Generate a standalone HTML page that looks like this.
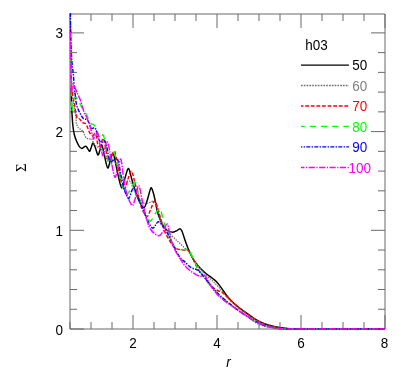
<!DOCTYPE html>
<html><head><meta charset="utf-8"><title>plot</title>
<style>
html,body{margin:0;padding:0;background:#fff;}
body{width:399px;height:385px;position:relative;overflow:hidden;font-family:"Liberation Sans",sans-serif;}
</style></head><body>
<svg width="399" height="385" viewBox="0 0 399 385" style="position:absolute;left:0;top:0;will-change:transform">
<defs><clipPath id="c"><rect x="69" y="13" width="317" height="317"/></clipPath></defs>
<path d="M70.00,329 v-7" stroke="#696969" stroke-width="1" fill="none"/>
<path d="M70.00,14 v7" stroke="#696969" stroke-width="1" fill="none"/>
<path d="M91.00,329 v-7" stroke="#696969" stroke-width="1" fill="none"/>
<path d="M91.00,14 v7" stroke="#696969" stroke-width="1" fill="none"/>
<path d="M112.00,329 v-7" stroke="#696969" stroke-width="1" fill="none"/>
<path d="M112.00,14 v7" stroke="#696969" stroke-width="1" fill="none"/>
<path d="M133.00,329 v-14" stroke="#696969" stroke-width="1" fill="none"/>
<path d="M133.00,14 v14" stroke="#696969" stroke-width="1" fill="none"/>
<path d="M154.00,329 v-7" stroke="#696969" stroke-width="1" fill="none"/>
<path d="M154.00,14 v7" stroke="#696969" stroke-width="1" fill="none"/>
<path d="M175.00,329 v-7" stroke="#696969" stroke-width="1" fill="none"/>
<path d="M175.00,14 v7" stroke="#696969" stroke-width="1" fill="none"/>
<path d="M196.00,329 v-7" stroke="#696969" stroke-width="1" fill="none"/>
<path d="M196.00,14 v7" stroke="#696969" stroke-width="1" fill="none"/>
<path d="M217.00,329 v-14" stroke="#696969" stroke-width="1" fill="none"/>
<path d="M217.00,14 v14" stroke="#696969" stroke-width="1" fill="none"/>
<path d="M238.00,329 v-7" stroke="#696969" stroke-width="1" fill="none"/>
<path d="M238.00,14 v7" stroke="#696969" stroke-width="1" fill="none"/>
<path d="M259.00,329 v-7" stroke="#696969" stroke-width="1" fill="none"/>
<path d="M259.00,14 v7" stroke="#696969" stroke-width="1" fill="none"/>
<path d="M280.00,329 v-7" stroke="#696969" stroke-width="1" fill="none"/>
<path d="M280.00,14 v7" stroke="#696969" stroke-width="1" fill="none"/>
<path d="M301.00,329 v-14" stroke="#696969" stroke-width="1" fill="none"/>
<path d="M301.00,14 v14" stroke="#696969" stroke-width="1" fill="none"/>
<path d="M322.00,329 v-7" stroke="#696969" stroke-width="1" fill="none"/>
<path d="M322.00,14 v7" stroke="#696969" stroke-width="1" fill="none"/>
<path d="M343.00,329 v-7" stroke="#696969" stroke-width="1" fill="none"/>
<path d="M343.00,14 v7" stroke="#696969" stroke-width="1" fill="none"/>
<path d="M364.00,329 v-7" stroke="#696969" stroke-width="1" fill="none"/>
<path d="M364.00,14 v7" stroke="#696969" stroke-width="1" fill="none"/>
<path d="M385.00,329 v-14" stroke="#696969" stroke-width="1" fill="none"/>
<path d="M385.00,14 v14" stroke="#696969" stroke-width="1" fill="none"/>
<path d="M70,329.00 h14" stroke="#696969" stroke-width="1" fill="none"/>
<path d="M385,329.00 h-14" stroke="#696969" stroke-width="1" fill="none"/>
<path d="M70,309.26 h7" stroke="#696969" stroke-width="1" fill="none"/>
<path d="M385,309.26 h-7" stroke="#696969" stroke-width="1" fill="none"/>
<path d="M70,289.52 h7" stroke="#696969" stroke-width="1" fill="none"/>
<path d="M385,289.52 h-7" stroke="#696969" stroke-width="1" fill="none"/>
<path d="M70,269.78 h7" stroke="#696969" stroke-width="1" fill="none"/>
<path d="M385,269.78 h-7" stroke="#696969" stroke-width="1" fill="none"/>
<path d="M70,250.04 h7" stroke="#696969" stroke-width="1" fill="none"/>
<path d="M385,250.04 h-7" stroke="#696969" stroke-width="1" fill="none"/>
<path d="M70,230.30 h14" stroke="#696969" stroke-width="1" fill="none"/>
<path d="M385,230.30 h-14" stroke="#696969" stroke-width="1" fill="none"/>
<path d="M70,210.56 h7" stroke="#696969" stroke-width="1" fill="none"/>
<path d="M385,210.56 h-7" stroke="#696969" stroke-width="1" fill="none"/>
<path d="M70,190.82 h7" stroke="#696969" stroke-width="1" fill="none"/>
<path d="M385,190.82 h-7" stroke="#696969" stroke-width="1" fill="none"/>
<path d="M70,171.08 h7" stroke="#696969" stroke-width="1" fill="none"/>
<path d="M385,171.08 h-7" stroke="#696969" stroke-width="1" fill="none"/>
<path d="M70,151.34 h7" stroke="#696969" stroke-width="1" fill="none"/>
<path d="M385,151.34 h-7" stroke="#696969" stroke-width="1" fill="none"/>
<path d="M70,131.60 h14" stroke="#696969" stroke-width="1" fill="none"/>
<path d="M385,131.60 h-14" stroke="#696969" stroke-width="1" fill="none"/>
<path d="M70,111.86 h7" stroke="#696969" stroke-width="1" fill="none"/>
<path d="M385,111.86 h-7" stroke="#696969" stroke-width="1" fill="none"/>
<path d="M70,92.12 h7" stroke="#696969" stroke-width="1" fill="none"/>
<path d="M385,92.12 h-7" stroke="#696969" stroke-width="1" fill="none"/>
<path d="M70,72.38 h7" stroke="#696969" stroke-width="1" fill="none"/>
<path d="M385,72.38 h-7" stroke="#696969" stroke-width="1" fill="none"/>
<path d="M70,52.64 h7" stroke="#696969" stroke-width="1" fill="none"/>
<path d="M385,52.64 h-7" stroke="#696969" stroke-width="1" fill="none"/>
<path d="M70,32.90 h14" stroke="#696969" stroke-width="1" fill="none"/>
<path d="M385,32.90 h-14" stroke="#696969" stroke-width="1" fill="none"/>
<path d="M70,14 H385" stroke="#696969" stroke-width="1" fill="none"/>
<path d="M70,329 H385" stroke="#696969" stroke-width="1" fill="none"/>
<path d="M70,14 V329" stroke="#696969" stroke-width="1" fill="none"/>
<path d="M385,14 V329" stroke="#696969" stroke-width="1" fill="none"/>
<g clip-path="url(#c)" fill="none" stroke-linejoin="round">
<path d="M71.20,88.00 C71.23,90.00 71.30,96.27 71.40,100.00 C71.50,103.73 71.55,106.07 71.80,110.40 C72.05,114.73 72.48,121.98 72.90,126.00 C73.32,130.02 73.73,132.07 74.30,134.50 C74.87,136.93 75.53,138.72 76.30,140.60 C77.07,142.48 78.03,144.50 78.90,145.80 C79.77,147.10 80.55,148.25 81.50,148.40 C82.45,148.55 83.82,147.03 84.60,146.70 C85.38,146.37 85.58,145.92 86.20,146.40 C86.82,146.88 87.70,148.80 88.30,149.60 C88.90,150.40 89.28,151.63 89.80,151.20 C90.32,150.77 90.88,148.37 91.40,147.00 C91.92,145.63 92.25,142.92 92.90,143.00 C93.55,143.08 94.47,145.50 95.30,147.50 C96.13,149.50 97.12,154.58 97.90,155.00 C98.68,155.42 99.33,151.67 100.00,150.00 C100.67,148.33 101.15,144.00 101.90,145.00 C102.65,146.00 103.53,152.17 104.50,156.00 C105.47,159.83 106.72,167.33 107.70,168.00 C108.68,168.67 109.52,162.47 110.40,160.00 C111.28,157.53 112.15,152.70 113.00,153.20 C113.85,153.70 114.58,159.03 115.50,163.00 C116.42,166.97 117.45,172.83 118.50,177.00 C119.55,181.17 120.72,187.83 121.80,188.00 C122.88,188.17 123.88,181.25 125.00,178.00 C126.12,174.75 127.33,168.17 128.50,168.50 C129.67,168.83 130.75,175.92 132.00,180.00 C133.25,184.08 134.67,189.17 136.00,193.00 C137.33,196.83 138.67,200.58 140.00,203.00 C141.33,205.42 142.83,207.83 144.00,207.50 C145.17,207.17 146.08,203.58 147.00,201.00 C147.92,198.42 148.78,194.20 149.50,192.00 C150.22,189.80 150.63,187.55 151.30,187.80 C151.97,188.05 152.80,191.13 153.50,193.50 C154.20,195.87 154.87,199.05 155.50,202.00 C156.13,204.95 156.47,208.12 157.30,211.20 C158.13,214.28 159.47,217.95 160.50,220.50 C161.53,223.05 162.33,224.83 163.50,226.50 C164.67,228.17 165.93,229.55 167.50,230.50 C169.07,231.45 171.32,232.18 172.90,232.20 C174.48,232.22 176.03,231.08 177.00,230.60 C177.97,230.12 178.17,229.60 178.70,229.30 C179.23,229.00 179.70,228.58 180.20,228.80 C180.70,229.02 181.23,229.73 181.70,230.60 C182.17,231.47 182.28,231.93 183.00,234.00 C183.72,236.07 184.83,239.83 186.00,243.00 C187.17,246.17 188.67,250.08 190.00,253.00 C191.33,255.92 192.33,258.00 194.00,260.50 C195.67,263.00 198.00,265.83 200.00,268.00 C202.00,270.17 203.95,271.78 206.00,273.50 C208.05,275.22 210.47,276.85 212.30,278.30 C214.13,279.75 215.32,280.35 217.00,282.20 C218.68,284.05 220.47,286.77 222.40,289.40 C224.33,292.03 226.50,295.53 228.60,298.00 C230.70,300.47 232.27,301.87 235.00,304.20 C237.73,306.53 241.67,309.53 245.00,312.00 C248.33,314.47 251.67,317.00 255.00,319.00 C258.33,321.00 261.67,322.72 265.00,324.00 C268.33,325.28 271.67,326.00 275.00,326.70 C278.33,327.40 281.67,327.83 285.00,328.20 C288.33,328.57 290.83,328.77 295.00,328.90 C299.17,329.03 295.00,328.98 310.00,329.00 C325.00,329.02 372.50,329.00 385.00,329.00" stroke="#000" stroke-width="1.45"/>
<path d="M70.30,50.00 C70.38,53.33 70.47,62.50 70.80,70.00 C71.13,77.50 71.47,87.18 72.30,95.00 C73.13,102.82 75.12,112.17 75.80,116.90 C76.48,121.63 75.97,121.57 76.40,123.40 C76.83,125.23 77.53,126.82 78.40,127.90 C79.27,128.98 80.73,129.13 81.60,129.90 C82.47,130.67 83.12,131.65 83.60,132.50 C84.08,133.35 83.98,134.03 84.50,135.00 C85.02,135.97 85.82,137.63 86.70,138.30 C87.58,138.97 88.97,138.93 89.80,139.00 C90.63,139.07 91.17,138.27 91.70,138.70 C92.23,139.13 92.28,140.38 93.00,141.60 C93.72,142.82 94.83,144.93 96.00,146.00 C97.17,147.07 98.67,147.00 100.00,148.00 C101.33,149.00 102.67,149.83 104.00,152.00 C105.33,154.17 106.50,159.67 108.00,161.00 C109.50,162.33 111.50,159.17 113.00,160.00 C114.50,160.83 115.67,163.33 117.00,166.00 C118.33,168.67 119.67,173.50 121.00,176.00 C122.33,178.50 123.50,180.08 125.00,181.00 C126.50,181.92 128.50,180.00 130.00,181.50 C131.50,183.00 132.50,187.08 134.00,190.00 C135.50,192.92 137.10,196.77 139.00,199.00 C140.90,201.23 143.57,202.85 145.40,203.40 C147.23,203.95 148.53,202.65 150.00,202.30 C151.47,201.95 152.95,200.18 154.20,201.30 C155.45,202.42 156.37,205.72 157.50,209.00 C158.63,212.28 159.48,217.47 161.00,221.00 C162.52,224.53 163.77,226.75 166.60,230.20 C169.43,233.65 174.18,237.97 178.00,241.70 C181.82,245.43 186.75,249.38 189.50,252.60 C192.25,255.82 192.25,257.77 194.50,261.00 C196.75,264.23 200.17,268.83 203.00,272.00 C205.83,275.17 208.92,277.50 211.50,280.00 C214.08,282.50 216.08,284.33 218.50,287.00 C220.92,289.67 223.08,292.83 226.00,296.00 C228.92,299.17 232.67,302.83 236.00,306.00 C239.33,309.17 243.00,312.42 246.00,315.00 C249.00,317.58 251.50,319.78 254.00,321.50 C256.50,323.22 258.67,324.38 261.00,325.30 C263.33,326.22 265.67,326.52 268.00,327.00 C270.33,327.48 272.17,327.87 275.00,328.20 C277.83,328.53 266.67,328.87 285.00,329.00 C303.33,329.13 368.33,329.00 385.00,329.00" stroke="#707070" stroke-width="1.3" stroke-dasharray="1.4 1.1"/>
<path d="M70.40,25.00 C70.48,30.83 70.67,49.50 70.90,60.00 C71.13,70.50 71.33,81.23 71.80,88.00 C72.27,94.77 73.21,97.63 73.70,100.60 C74.19,103.57 74.40,103.73 74.75,105.80 C75.10,107.87 75.37,110.93 75.80,113.00 C76.23,115.07 76.75,117.23 77.35,118.20 C77.95,119.17 78.71,118.27 79.40,118.80 C80.09,119.33 80.98,120.75 81.50,121.40 C82.02,122.05 81.77,122.30 82.50,122.70 C83.23,123.10 85.02,122.90 85.90,123.80 C86.78,124.70 87.08,126.47 87.80,128.10 C88.52,129.73 89.37,132.37 90.20,133.60 C91.03,134.83 91.96,135.50 92.80,135.50 C93.64,135.50 94.58,133.13 95.25,133.60 C95.92,134.07 96.41,136.62 96.80,138.30 C97.19,139.98 97.15,142.33 97.60,143.70 C98.05,145.07 98.85,146.78 99.50,146.50 C100.15,146.22 100.87,143.33 101.50,142.00 C102.13,140.67 102.63,137.67 103.30,138.50 C103.97,139.33 104.72,143.42 105.50,147.00 C106.28,150.58 107.08,158.33 108.00,160.00 C108.92,161.67 109.92,158.50 111.00,157.00 C112.08,155.50 113.57,150.50 114.50,151.00 C115.43,151.50 115.82,156.47 116.60,160.00 C117.38,163.53 118.38,168.37 119.20,172.20 C120.02,176.03 120.62,180.12 121.50,183.00 C122.38,185.88 123.42,190.17 124.50,189.50 C125.58,188.83 126.85,182.08 128.00,179.00 C129.15,175.92 130.32,170.67 131.40,171.00 C132.48,171.33 133.40,177.00 134.50,181.00 C135.60,185.00 136.75,190.33 138.00,195.00 C139.25,199.67 140.50,205.43 142.00,209.00 C143.50,212.57 145.53,216.40 147.00,216.40 C148.47,216.40 149.55,211.57 150.80,209.00 C152.05,206.43 153.38,201.33 154.50,201.00 C155.62,200.67 156.50,204.17 157.50,207.00 C158.50,209.83 159.33,214.00 160.50,218.00 C161.67,222.00 163.08,227.42 164.50,231.00 C165.92,234.58 167.58,237.05 169.00,239.50 C170.42,241.95 171.67,244.15 173.00,245.70 C174.33,247.25 175.33,248.08 177.00,248.80 C178.67,249.52 181.10,249.75 183.00,250.00 C184.90,250.25 187.07,249.55 188.40,250.30 C189.73,251.05 190.13,252.88 191.00,254.50 C191.87,256.12 192.52,257.68 193.60,260.00 C194.68,262.32 195.55,265.32 197.50,268.40 C199.45,271.48 202.97,275.52 205.30,278.50 C207.63,281.48 209.68,284.42 211.50,286.30 C213.32,288.18 214.38,288.73 216.20,289.80 C218.02,290.87 220.33,291.28 222.40,292.70 C224.47,294.12 226.50,296.35 228.60,298.30 C230.70,300.25 232.27,302.08 235.00,304.40 C237.73,306.72 241.67,309.73 245.00,312.20 C248.33,314.67 251.67,317.20 255.00,319.20 C258.33,321.20 261.67,322.92 265.00,324.20 C268.33,325.48 271.67,326.22 275.00,326.90 C278.33,327.58 281.67,327.95 285.00,328.30 C288.33,328.65 278.33,328.88 295.00,329.00 C311.67,329.12 370.00,329.00 385.00,329.00" stroke="#ff0000" stroke-width="1.45" stroke-dasharray="3.8 1.8"/>
<path d="M70.30,45.00 C70.37,48.33 70.53,56.83 70.70,65.00 C70.87,73.17 71.12,86.25 71.30,94.00 C71.48,101.75 71.47,110.33 71.80,111.50 C72.13,112.67 72.68,103.42 73.30,101.00 C73.92,98.58 74.65,97.07 75.50,97.00 C76.35,96.93 77.40,98.97 78.40,100.60 C79.40,102.23 80.47,104.90 81.50,106.80 C82.53,108.70 83.73,110.63 84.60,112.00 C85.47,113.37 86.00,113.75 86.70,115.00 C87.40,116.25 88.02,118.03 88.80,119.50 C89.58,120.97 90.45,122.82 91.40,123.80 C92.35,124.78 93.65,124.37 94.50,125.40 C95.35,126.43 95.78,128.23 96.50,130.00 C97.22,131.77 98.00,134.58 98.80,136.00 C99.60,137.42 100.60,138.71 101.30,138.50 C102.00,138.29 102.42,134.45 103.00,134.75 C103.58,135.05 104.08,136.93 104.80,140.30 C105.52,143.68 106.37,150.88 107.30,155.00 C108.23,159.12 109.57,164.50 110.40,165.00 C111.23,165.50 111.70,160.08 112.30,158.00 C112.90,155.92 113.30,152.17 114.00,152.50 C114.70,152.83 115.58,156.75 116.50,160.00 C117.42,163.25 118.58,168.17 119.50,172.00 C120.42,175.83 121.22,179.90 122.00,183.00 C122.78,186.10 123.48,188.65 124.20,190.60 C124.92,192.55 125.25,194.88 126.30,194.70 C127.35,194.52 129.03,191.57 130.50,189.50 C131.97,187.43 133.98,182.63 135.10,182.30 C136.22,181.97 136.58,185.25 137.20,187.50 C137.82,189.75 137.75,192.00 138.80,195.80 C139.85,199.60 142.30,206.85 143.50,210.30 C144.70,213.75 144.83,214.72 146.00,216.50 C147.17,218.28 149.00,221.42 150.50,221.00 C152.00,220.58 153.45,216.08 155.00,214.00 C156.55,211.92 158.67,208.50 159.80,208.50 C160.93,208.50 161.02,211.42 161.80,214.00 C162.58,216.58 163.13,220.00 164.50,224.00 C165.87,228.00 168.08,233.90 170.00,238.00 C171.92,242.10 174.00,246.67 176.00,248.60 C178.00,250.53 179.93,249.45 182.00,249.60 C184.07,249.75 186.90,248.77 188.40,249.50 C189.90,250.23 189.95,251.92 191.00,254.00 C192.05,256.08 193.45,259.42 194.70,262.00 C195.95,264.58 197.00,267.00 198.50,269.50 C200.00,272.00 202.05,274.72 203.70,277.00 C205.35,279.28 206.32,280.78 208.40,283.20 C210.48,285.62 213.60,288.82 216.20,291.50 C218.80,294.18 220.87,296.58 224.00,299.30 C227.13,302.02 231.50,305.18 235.00,307.80 C238.50,310.42 241.67,312.80 245.00,315.00 C248.33,317.20 251.67,319.23 255.00,321.00 C258.33,322.77 262.00,324.52 265.00,325.60 C268.00,326.68 270.00,326.97 273.00,327.50 C276.00,328.03 279.33,328.55 283.00,328.80 C286.67,329.05 278.00,328.97 295.00,329.00 C312.00,329.03 370.00,329.00 385.00,329.00" stroke="#00ff00" stroke-width="1.45" stroke-dasharray="6.3 4.9"/>
<path d="M70.30,5.00 C70.38,10.83 70.52,30.42 70.80,40.00 C71.08,49.58 71.57,56.67 72.00,62.50 C72.43,68.33 73.02,70.75 73.40,75.00 C73.78,79.25 73.98,84.60 74.30,88.00 C74.62,91.40 74.97,92.78 75.30,95.40 C75.63,98.02 75.78,101.27 76.30,103.70 C76.82,106.13 77.62,108.12 78.40,110.00 C79.18,111.88 80.13,113.53 81.00,115.00 C81.87,116.47 82.65,118.03 83.60,118.80 C84.55,119.57 85.80,118.95 86.70,119.60 C87.60,120.25 88.35,121.40 89.00,122.70 C89.65,124.00 90.08,126.43 90.60,127.40 C91.12,128.37 91.45,128.45 92.10,128.50 C92.75,128.55 93.85,127.50 94.50,127.70 C95.15,127.90 95.48,128.33 96.00,129.70 C96.52,131.07 97.02,134.08 97.60,135.90 C98.18,137.72 98.72,139.55 99.50,140.60 C100.28,141.65 101.45,142.20 102.30,142.20 C103.15,142.20 103.95,140.30 104.60,140.60 C105.25,140.90 105.50,141.27 106.20,144.00 C106.90,146.73 108.17,153.92 108.80,157.00 C109.43,160.08 109.30,161.92 110.00,162.50 C110.70,163.08 111.92,161.17 113.00,160.50 C114.08,159.83 115.58,158.25 116.50,158.50 C117.42,158.75 117.78,159.37 118.50,162.00 C119.22,164.63 119.93,170.05 120.80,174.30 C121.67,178.55 122.78,184.10 123.70,187.50 C124.62,190.90 125.43,192.88 126.30,194.70 C127.17,196.52 128.03,198.92 128.90,198.40 C129.77,197.88 130.72,193.33 131.50,191.60 C132.28,189.87 132.82,187.82 133.60,188.00 C134.38,188.18 135.33,190.87 136.20,192.70 C137.07,194.53 137.85,196.75 138.80,199.00 C139.75,201.25 140.95,203.97 141.90,206.20 C142.85,208.43 143.65,210.18 144.50,212.40 C145.35,214.62 145.68,216.90 147.00,219.50 C148.32,222.10 150.98,227.08 152.40,228.00 C153.82,228.92 154.52,226.03 155.50,225.00 C156.48,223.97 157.22,221.80 158.30,221.80 C159.38,221.80 160.62,223.38 162.00,225.00 C163.38,226.62 164.77,228.22 166.60,231.50 C168.43,234.78 170.93,240.62 173.00,244.70 C175.07,248.78 177.00,253.10 179.00,256.00 C181.00,258.90 182.97,260.17 185.00,262.10 C187.03,264.03 189.12,266.28 191.20,267.60 C193.28,268.92 195.68,268.83 197.50,270.00 C199.32,271.17 200.28,272.53 202.10,274.60 C203.92,276.67 206.05,279.54 208.40,282.40 C210.75,285.26 213.35,288.77 216.20,291.75 C219.05,294.73 222.37,297.59 225.50,300.30 C228.63,303.01 231.75,305.55 235.00,308.00 C238.25,310.45 241.67,312.83 245.00,315.00 C248.33,317.17 251.67,319.23 255.00,321.00 C258.33,322.77 262.00,324.52 265.00,325.60 C268.00,326.68 270.00,326.97 273.00,327.50 C276.00,328.03 279.33,328.55 283.00,328.80 C286.67,329.05 278.00,328.97 295.00,329.00 C312.00,329.03 370.00,329.00 385.00,329.00" stroke="#0000ff" stroke-width="1.45" stroke-dasharray="4 1.3 1.4 1.3"/>
<path d="M70.30,32.00 C70.35,36.67 70.50,52.00 70.60,60.00 C70.70,68.00 70.78,74.42 70.90,80.00 C71.02,85.58 71.15,92.17 71.30,93.50 C71.45,94.83 71.58,89.53 71.80,88.00 C72.02,86.47 72.25,84.75 72.60,84.30 C72.95,83.85 73.08,83.75 73.90,85.30 C74.72,86.85 76.37,90.98 77.50,93.60 C78.63,96.22 79.65,98.05 80.70,101.00 C81.75,103.95 82.80,108.60 83.80,111.30 C84.80,114.00 85.97,115.58 86.70,117.20 C87.43,118.82 87.68,119.70 88.20,121.00 C88.72,122.30 89.27,123.29 89.80,125.00 C90.33,126.71 90.88,129.30 91.40,131.25 C91.92,133.20 92.52,135.41 92.90,136.70 C93.28,137.99 93.37,139.37 93.70,139.00 C94.03,138.63 94.25,135.53 94.90,134.50 C95.55,133.47 96.95,132.17 97.60,132.80 C98.25,133.43 98.43,136.43 98.80,138.30 C99.17,140.17 99.35,141.88 99.80,144.00 C100.25,146.12 100.97,149.07 101.50,151.00 C102.03,152.93 102.42,156.10 103.00,155.60 C103.58,155.10 104.27,150.27 105.00,148.00 C105.73,145.73 106.65,141.67 107.40,142.00 C108.15,142.33 108.73,146.17 109.50,150.00 C110.27,153.83 111.08,160.43 112.00,165.00 C112.92,169.57 114.03,176.90 115.00,177.40 C115.97,177.90 116.83,171.03 117.80,168.00 C118.77,164.97 119.90,158.03 120.80,159.20 C121.70,160.37 122.53,170.63 123.20,175.00 C123.87,179.37 124.10,181.93 124.80,185.40 C125.50,188.87 126.45,192.87 127.40,195.80 C128.35,198.73 129.65,201.37 130.50,203.00 C131.35,204.63 131.73,206.27 132.50,205.60 C133.27,204.93 134.32,201.68 135.10,199.00 C135.88,196.32 136.58,191.77 137.20,189.50 C137.82,187.23 138.28,185.22 138.80,185.40 C139.32,185.58 139.78,188.33 140.30,190.60 C140.82,192.87 141.28,196.07 141.90,199.00 C142.52,201.93 143.32,205.37 144.00,208.20 C144.68,211.03 145.00,212.62 146.00,216.00 C147.00,219.38 147.95,225.20 150.00,228.50 C152.05,231.80 156.13,235.30 158.30,235.80 C160.47,236.30 161.53,233.48 163.00,231.50 C164.47,229.52 166.05,223.98 167.10,223.90 C168.15,223.82 168.48,227.82 169.30,231.00 C170.12,234.18 170.88,239.50 172.00,243.00 C173.12,246.50 174.50,249.17 176.00,252.00 C177.50,254.83 179.50,257.67 181.00,260.00 C182.50,262.33 183.30,264.08 185.00,266.00 C186.70,267.92 189.12,269.93 191.20,271.50 C193.28,273.07 195.80,274.62 197.50,275.40 C199.20,276.18 200.23,276.20 201.40,276.20 C202.57,276.20 203.60,275.02 204.50,275.40 C205.40,275.78 205.63,276.57 206.80,278.50 C207.97,280.43 209.93,284.53 211.50,287.00 C213.07,289.47 214.12,291.05 216.20,293.30 C218.28,295.55 220.87,298.02 224.00,300.50 C227.13,302.98 231.50,305.75 235.00,308.20 C238.50,310.65 241.67,313.03 245.00,315.20 C248.33,317.37 251.67,319.43 255.00,321.20 C258.33,322.97 262.00,324.73 265.00,325.80 C268.00,326.87 270.00,327.08 273.00,327.60 C276.00,328.12 279.33,328.67 283.00,328.90 C286.67,329.13 278.00,328.98 295.00,329.00 C312.00,329.02 370.00,329.00 385.00,329.00" stroke="#ff00ff" stroke-width="1.45" stroke-dasharray="6.6 1.2 1.5 1.2"/>
</g>
<path d="M301,65.05 H348.9" stroke="#000" stroke-width="1.35" fill="none"/>
<path d="M301,85.5 H348.9" stroke="#707070" stroke-width="1.35" fill="none" stroke-dasharray="1.7 1.1" stroke-dashoffset="0"/>
<path d="M301,106 H348.9" stroke="#ff0000" stroke-width="1.35" fill="none" stroke-dasharray="3.8 1.8" stroke-dashoffset="1.4"/>
<path d="M301,126.4 H348.9" stroke="#00ff00" stroke-width="1.35" fill="none" stroke-dasharray="6.3 4.9" stroke-dashoffset="2.5"/>
<path d="M301,146.9 H348.9" stroke="#0000ff" stroke-width="1.35" fill="none" stroke-dasharray="4 1.3 1.4 1.3" stroke-dashoffset="2.7"/>
<path d="M301,167.4 H348.9" stroke="#ff00ff" stroke-width="1.45" fill="none" stroke-dasharray="6.2 1.5 1.2 1.5" stroke-dashoffset="2.7"/>
<g font-family="'Liberation Sans',sans-serif" font-size="13.5">
<text transform="translate(305.3,50) scale(1,1.085)" fill="#000" text-anchor="start">h03</text>
<text transform="translate(352.2,70.45) scale(1,1.085)" fill="#000" text-anchor="start">50</text>
<text transform="translate(352.2,90.9) scale(1,1.085)" fill="#808080" text-anchor="start">60</text>
<text transform="translate(352.2,111.4) scale(1,1.085)" fill="#ff0000" text-anchor="start">70</text>
<text transform="translate(352.2,131.8) scale(1,1.085)" fill="#00ff00" text-anchor="start">80</text>
<text transform="translate(352.2,152.3) scale(1,1.085)" fill="#0000ff" text-anchor="start">90</text>
<text transform="translate(348.6,172.8) scale(1,1.085)" fill="#ff00ff" text-anchor="start">100</text>
<text transform="translate(133,347.6) scale(1,1.085)" fill="#000" text-anchor="middle">2</text>
<text transform="translate(217,347.6) scale(1,1.085)" fill="#000" text-anchor="middle">4</text>
<text transform="translate(301,347.6) scale(1,1.085)" fill="#000" text-anchor="middle">6</text>
<text transform="translate(384.5,347.6) scale(1,1.085)" fill="#000" text-anchor="middle">8</text>
<text transform="translate(63,334.5) scale(1,1.085)" fill="#000" text-anchor="end">0</text>
<text transform="translate(63,235.8) scale(1,1.085)" fill="#000" text-anchor="end">1</text>
<text transform="translate(63,137.1) scale(1,1.085)" fill="#000" text-anchor="end">2</text>
<text transform="translate(63,38.4) scale(1,1.085)" fill="#000" text-anchor="end">3</text>
<text transform="translate(228.6,367) scale(1,1.085)" fill="#000" text-anchor="middle" font-style="italic">r</text>
</g>
<text transform="translate(26,167.6) rotate(-90)" font-family="'Liberation Serif',serif" font-size="14.3" text-anchor="middle" fill="#000">&#931;</text>
</svg>
</body></html>
